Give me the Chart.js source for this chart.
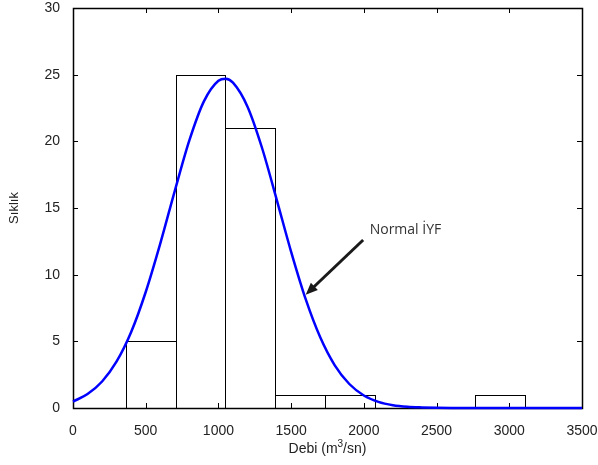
<!DOCTYPE html>
<html>
<head>
<meta charset="utf-8">
<script src="https://cdn.jsdelivr.net/npm/chart.js@4/dist/chart.umd.min.js"></script>
<style>
  html, body { margin: 0; padding: 0; background: #fff; }
  canvas { display: block; }
</style>
</head>
<body>
<canvas id="chart" width="598" height="465"></canvas>
<script>
// histogram bins (edges) and counts
const binEdges = [363, 706, 1048, 1391, 1734, 2076, 2419, 2762, 3105];
const binCounts = [5, 25, 21, 1, 1, 0, 0, 1];

// normal curve
const curveX = [0, 100, 200, 300, 400, 500, 600, 700, 800, 900, 1000, 1050, 1100, 1200, 1300, 1400, 1500, 1600, 1700, 1800, 1900, 2000, 2100, 2200, 2300, 2400, 2500, 2600, 3500];
const curveY = [0.48, 1.05, 1.99, 3.49, 5.7, 8.7, 12.33, 16.29, 20.07, 23.0, 24.55, 24.7, 24.4, 22.6, 19.5, 15.65, 11.71, 8.16, 5.3, 3.2, 1.8, 0.94, 0.46, 0.21, 0.09, 0.04, 0.01, 0, 0];

const xTicks = [0, 500, 1000, 1500, 2000, 2500, 3000, 3500];
const yTicks = [0, 5, 10, 15, 20, 25, 30];

const note = { text: 'Normal İYF', x: 2040, y: 13.5, fromX: 1995, fromY: 12.6, toX: 1600, toY: 8.5 };

const tickFont = { family: 'Liberation Sans, Arial, sans-serif', size: 14 };

const histogramPlugin = {
  id: 'histogram',
  beforeDatasetsDraw(chart) {
    const { ctx, scales: { x, y } } = chart;
    ctx.save();
    ctx.strokeStyle = '#000';
    ctx.lineWidth = 1;
    binCounts.forEach((count, i) => {
      if (!count) return;
      const left = Math.round(x.getPixelForValue(binEdges[i]));
      const right = Math.round(x.getPixelForValue(binEdges[i + 1]));
      const top = Math.round(y.getPixelForValue(count));
      const bottom = Math.round(y.getPixelForValue(0));
      ctx.strokeRect(left + 0.5, top + 0.5, right - left, bottom - top);
    });
    ctx.restore();
  },
};

const boxPlugin = {
  id: 'box',
  beforeDatasetsDraw(chart) {
    const { ctx, chartArea: a, scales: { x, y } } = chart;
    ctx.save();
    ctx.strokeStyle = '#000';
    ctx.lineWidth = 1;
    ctx.beginPath();
    xTicks.forEach(v => {
      const px = Math.round(x.getPixelForValue(v)) + 0.5;
      ctx.moveTo(px, a.bottom); ctx.lineTo(px, a.bottom - 5);
      ctx.moveTo(px, a.top); ctx.lineTo(px, a.top + 5);
    });
    yTicks.forEach(v => {
      const py = Math.round(y.getPixelForValue(v)) + 0.5;
      ctx.moveTo(a.left, py); ctx.lineTo(a.left + 5, py);
      ctx.moveTo(a.right, py); ctx.lineTo(a.right - 5, py);
    });
    ctx.stroke();
    ctx.lineWidth = 1.5;
    ctx.strokeRect(Math.round(a.left) + 0.5, Math.round(a.top) + 0.5, Math.round(a.right - a.left), Math.round(a.bottom - a.top));
    ctx.restore();
  },
};

const notePlugin = {
  id: 'note',
  afterDatasetsDraw(chart) {
    const { ctx, chartArea: a, scales: { x, y } } = chart;
    const x1 = x.getPixelForValue(note.fromX), y1 = y.getPixelForValue(note.fromY);
    const x2 = x.getPixelForValue(note.toX), y2 = y.getPixelForValue(note.toY);
    const ang = Math.atan2(y2 - y1, x2 - x1);
    const head = 13;
    ctx.save();
    ctx.strokeStyle = '#1a1a1a';
    ctx.fillStyle = '#1a1a1a';
    ctx.lineWidth = 3;
    ctx.beginPath();
    ctx.moveTo(x1, y1);
    ctx.lineTo(x2 - Math.cos(ang) * head * 0.8, y2 - Math.sin(ang) * head * 0.8);
    ctx.stroke();
    ctx.beginPath();
    ctx.moveTo(x2, y2);
    ctx.lineTo(x2 - head * Math.cos(ang - 0.4), y2 - head * Math.sin(ang - 0.4));
    ctx.lineTo(x2 - head * Math.cos(ang + 0.4), y2 - head * Math.sin(ang + 0.4));
    ctx.closePath();
    ctx.fill();
    ctx.font = '14px "Open Sans", sans-serif';
    ctx.fillStyle = '#333';
    ctx.textBaseline = 'alphabetic';
    ctx.fillText(note.text, x.getPixelForValue(note.x), y.getPixelForValue(note.y) + 6);

    // x axis title with a real superscript
    const main = '14px "Liberation Sans", Arial, sans-serif';
    const sup = '10px "Liberation Sans", Arial, sans-serif';
    const parts = [['Debi (m', main, 0], ['3', sup, -6], ['/sn)', main, 0]];
    let total = 0;
    parts.forEach(([t, f]) => { ctx.font = f; total += ctx.measureText(t).width; });
    let cx = (a.left + a.right) / 2 - total / 2;
    const base = a.bottom + 45;
    ctx.fillStyle = '#222';
    parts.forEach(([t, f, dy]) => {
      ctx.font = f;
      ctx.fillText(t, cx, base + dy);
      cx += ctx.measureText(t).width;
    });
    ctx.restore();
  },
};

function noPad(scale) {
  scale.paddingLeft = 0;
  scale.paddingRight = 0;
  scale.paddingTop = 0;
  scale.paddingBottom = 0;
}

new Chart(document.getElementById('chart'), {
  type: 'line',
  data: {
    datasets: [{
      label: 'Normal İYF',
      data: curveX.map((v, i) => ({ x: v, y: curveY[i] })),
      borderColor: '#0000ff',
      borderWidth: 2.5,
      pointRadius: 0,
      cubicInterpolationMode: 'monotone',
      clip: false,
    }],
  },
  options: {
    responsive: false,
    animation: false,
    layout: { padding: { top: 8, right: 16, bottom: 0, left: 0 } },
    plugins: { legend: { display: false }, tooltip: { enabled: false } },
    scales: {
      x: {
        type: 'linear',
        min: 0,
        max: 3500,
        grid: { display: false },
        border: { display: false },
        afterBuildTicks: scale => { scale.ticks = xTicks.map(v => ({ value: v })); },
        ticks: { font: tickFont, color: '#222', padding: 7, maxRotation: 0, callback: v => String(v) },
        title: { display: false },
        afterFit: scale => { scale.height = 57; noPad(scale); },
      },
      y: {
        min: 0,
        max: 30,
        grid: { display: false },
        border: { display: false },
        afterBuildTicks: scale => { scale.ticks = yTicks.map(v => ({ value: v })); },
        ticks: { font: tickFont, color: '#222', padding: 5, callback: v => String(v) },
        title: { display: true, text: 'Sıklık', font: { family: 'Liberation Sans, Arial, sans-serif', size: 13 }, color: '#222', padding: { top: 7, bottom: 0 } },
        afterFit: scale => { scale.width = 73; noPad(scale); },
      },
    },
  },
  plugins: [boxPlugin, histogramPlugin, notePlugin],
});
</script>
</body>
</html>
